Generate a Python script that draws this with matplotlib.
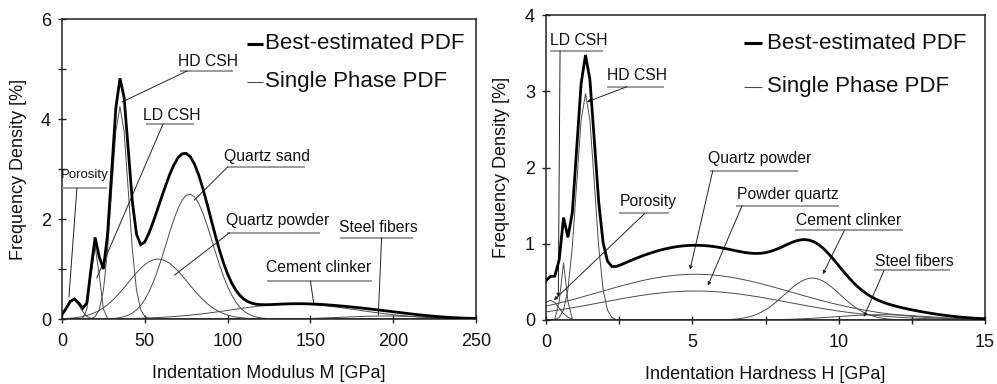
import numpy as np
import matplotlib
matplotlib.use("Agg")
import matplotlib.pyplot as plt

plt.rcParams['font.family'] = ['Liberation Sans', 'DejaVu Sans']

# ---------------- data ----------------
# Left panel: indentation modulus M [GPa] – single phase normal PDFs
m_phases = ["Porosity", "LD CSH", "HD CSH", "Quartz powder", "Quartz sand",
            "Cement clinker", "Steel fibers"]
m_mean = [7.0, 20.0, 35.0, 58.0, 77.0, 140.0, 195.0]      # GPa
m_sd = [4.0, 2.5, 5.0, 18.0, 14.0, 38.0, 25.0]            # GPa
m_peak = [0.38, 1.45, 4.25, 1.2, 2.5, 0.30, 0.06]         # %

# Right panel: indentation hardness H [GPa]
h_phases = ["Porosity", "LD CSH", "HD CSH", "Quartz powder", "Powder quartz",
            "Cement clinker", "Steel fibers"]
h_mean = [0.15, 0.6, 1.35, 5.1, 5.1, 9.1, 11.5]
h_sd = [0.3, 0.1, 0.3, 3.3, 3.2, 0.95, 1.6]
h_peak = [0.26, 0.75, 2.97, 0.60, 0.38, 0.55, 0.07]

m_xmax, h_xmax = 250, 15
m_step, h_step = 2.5, 0.15

m_xticks = [0, 50, 100, 150, 200, 250]
m_yticks = [0, 2, 4, 6]
h_xticks = [0, 5, 10, 15]
h_yticks = [0, 1, 2, 3, 4]

legend_labels = ["Best-estimated PDF", "Single Phase PDF"]

# ---------------- layout of annotations ----------------
# (text, tx, ty, ul_x0, ul_x1, ul_y, lead_x, target_x, target_y, fontsize)
m_notes = [
    ("Porosity", 13.6, 2.88, 0, 27, 2.62, 9, 4.2, 0.44, 9.5),
    ("HD CSH", 88, 5.16, 71, 103, 4.96, 75.5, 36.2, 4.34, 11.3),
    ("LD CSH", 66, 4.08, 51, 80, 3.90, 61, 21, 0.82, 11.3),
    ("Quartz sand", 124, 3.26, 99.5, 147, 3.04, 100, 80, 2.38, 11.3),
    ("Quartz powder", 130, 1.98, 99.5, 156, 1.72, 101, 68, 0.88, 11.3),
    ("Cement clinker", 155, 1.02, 124, 187, 0.76, 150, 152, 0.32, 11.3),
    ("Steel fibers", 191, 1.82, 168, 212, 1.62, 193, 191, 0.08, 11.3),
]
h_notes = [
    ("LD CSH", 1.12, 3.66, 0.14, 1.95, 3.53, 0.48, 0.42, 0.30, 11.3),
    ("HD CSH", 3.1, 3.20, 2.08, 4.03, 3.06, 2.77, 1.40, 2.86, 11.3),
    ("Porosity", 3.48, 1.55, 2.5, 4.2, 1.40, 3.38, 0.27, 0.26, 11.3),
    ("Quartz powder", 7.3, 2.12, 5.6, 8.6, 1.96, 5.7, 4.92, 0.66, 11.3),
    ("Powder quartz", 8.27, 1.64, 6.5, 10.0, 1.50, 6.7, 5.53, 0.45, 11.3),
    ("Cement clinker", 10.35, 1.30, 8.5, 12.2, 1.18, 10.2, 9.46, 0.60, 11.3),
    ("Steel fibers", 12.6, 0.77, 11.2, 13.8, 0.65, 11.55, 10.86, 0.04, 11.3),
]

THICK = 2.0
THIN = 0.7
THIN_C = "#4a4a4a"


def phase_curves(x, mean, sd, peak):
    return [p * np.exp(-0.5 * ((x - m) / s) ** 2) for m, s, p in zip(mean, sd, peak)]


def draw_panel(ax, xmax, step, mean, sd, peak, notes, arrows):
    x = np.arange(0, xmax + step / 2, step)
    curves = phase_curves(x, mean, sd, peak)
    for c in curves:
        ax.plot(x, c, color=THIN_C, lw=THIN, zorder=2)
    ax.plot(x, np.sum(curves, axis=0), color="black", lw=THICK, zorder=4,
            solid_joinstyle="miter")
    for (t, tx, ty, u0, u1, uy, lx, px, py, fs) in notes:
        ax.text(tx, ty, t, ha="center", va="center", fontsize=fs, color="#111111",
                zorder=5)
        ax.plot([u0, u1], [uy, uy], color="#8a8a8a", lw=1.2, zorder=3,
                solid_capstyle="butt")
        if arrows:
            ax.annotate("", xy=(px, py), xytext=(lx, uy),
                        arrowprops=dict(arrowstyle="-|>", color="#222222", lw=0.7,
                                        mutation_scale=5, shrinkA=0, shrinkB=0),
                        zorder=3)
        else:
            ax.plot([lx, px], [uy, py], color="#222222", lw=0.7, zorder=3)


def style_axes(ax):
    for s in ax.spines.values():
        s.set_linewidth(1.1)
        s.set_color("#222222")
    ax.tick_params(axis="both", direction="inout", length=6, width=1.0,
                   labelsize=13, color="#222222", labelcolor="#111111")
    ax.tick_params(axis="x", pad=7)
    ax.tick_params(axis="y", pad=5)


def legend(ax, x0, x1, xt, y1, y2):
    ax.plot([x0, x1], [y1, y1], transform=ax.transAxes, color="black", lw=2.2,
            clip_on=False, solid_capstyle="butt")
    ax.plot([x0, x1], [y2, y2], transform=ax.transAxes, color=THIN_C, lw=0.8,
            clip_on=False, solid_capstyle="butt")
    ax.text(xt, y1, legend_labels[0], transform=ax.transAxes, fontsize=16,
            va="center", ha="left", color="#111111")
    ax.text(xt, y2, legend_labels[1], transform=ax.transAxes, fontsize=16,
            va="center", ha="left", color="#111111")


fig = plt.figure(figsize=(9.97, 3.84), dpi=100)
axL = fig.add_axes([62 / 997, 1 - 319 / 384, 414 / 997, 300 / 384])
axR = fig.add_axes([546 / 997, 1 - 320 / 384, 439 / 997, 305 / 384])

draw_panel(axL, m_xmax, m_step, m_mean, m_sd, m_peak, m_notes, arrows=False)
draw_panel(axR, h_xmax, h_step, h_mean, h_sd, h_peak, h_notes, arrows=True)

axL.set_xlim(0, m_xmax)
axL.set_ylim(0, 6)
axL.set_xticks(np.arange(0, m_xmax + 1, 50))
axL.set_xticklabels([str(v) for v in m_xticks])
axL.set_yticks(np.arange(0, 7, 1))
axL.set_yticklabels([str(v) if v in m_yticks else "" for v in range(7)])
axL.set_xlabel("Indentation Modulus M [GPa]", fontsize=13, color="#111111")
axL.set_ylabel("Frequency Density [%]", fontsize=13, color="#111111")
axL.xaxis.set_label_coords(0.5, -0.155)
axL.yaxis.set_label_coords(-0.085, 0.5)
style_axes(axL)

axR.set_xlim(0, h_xmax)
axR.set_ylim(0, 4)
h_tick_pos = np.arange(0, h_xmax + 0.1, 2.5)
axR.set_xticks(h_tick_pos)
axR.set_xticklabels([f"{v:g}" if v in h_xticks else "" for v in h_tick_pos])
axR.set_yticks(h_yticks)
axR.set_yticklabels([str(v) for v in h_yticks])
axR.set_xlabel("Indentation Hardness H [GPa]", fontsize=13, color="#111111")
axR.set_ylabel("Frequency Density [%]", fontsize=13, color="#111111")
axR.xaxis.set_label_coords(0.5, -0.151)
axR.yaxis.set_label_coords(-0.082, 0.5)
style_axes(axR)

legend(axL, 0.447, 0.486, 0.49, 0.917, 0.79)
legend(axR, 0.451, 0.492, 0.503, 0.908, 0.764)

fig.savefig("out.png", dpi=100)
